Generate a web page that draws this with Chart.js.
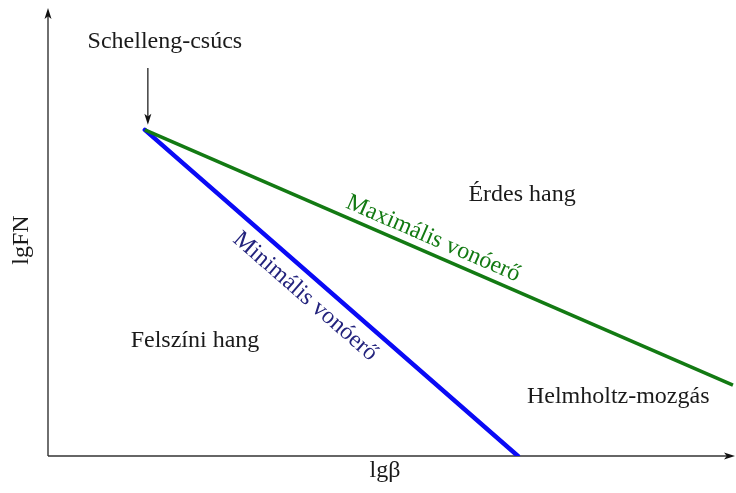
<!DOCTYPE html>
<html>
<head>
<meta charset="utf-8">
<script src="https://cdn.jsdelivr.net/npm/chart.js@4/dist/chart.umd.min.js"></script>
<style>
  html, body { margin: 0; padding: 0; background: #fff; }
  #wrap { width: 736px; height: 493px; position: relative; }
</style>
</head>
<body>
<div id="wrap"><canvas id="c"></canvas></div>
<script>
// Bowing-force limits (log-log, arbitrary units): lg β on x, lg F_N on y
const seriesNames = ['Maximális vonóerő', 'Minimális vonóerő'];
const maxForceX = [1.41, 9.97];
const maxForceY = [7.28, 1.58];
const minForceX = [1.41, 6.84];
const minForceY = [7.28, 0.0];

const xTitle = 'lgβ';
const yTitle = 'lgFN';
const peakLabel = 'Schelleng-csúcs';
const regionNames = ['Érdes hang', 'Felszíni hang', 'Helmholtz-mozgás'];

// Where the region names sit (data units)
const regionPos = [
  { x: 6.90, y: 5.83 },
  { x: 2.14, y: 2.57 },
  { x: 8.30, y: 1.32 }
];

const FONT = '"Liberation Serif", "DejaVu Serif", serif';
const FONT_SIZE = 24;
const GREEN = '#137a13';
const BLUE = '#0a0af5';

const toPts = (xs, ys) => xs.map((x, i) => ({ x, y: ys[i] }));

function arrowHead(ctx, x, y, dx, dy, len, half) {
  const n = Math.hypot(dx, dy); const ux = dx / n, uy = dy / n;
  ctx.beginPath();
  ctx.moveTo(x, y);
  ctx.lineTo(x - ux * len - uy * half, y - uy * len + ux * half);
  ctx.lineTo(x - ux * len * 0.75, y - uy * len * 0.75);
  ctx.lineTo(x - ux * len + uy * half, y - uy * len - ux * half);
  ctx.closePath();
  ctx.fill();
}

function lineLabel(ctx, xs, ys, text, t, offset, color, sx, sy) {
  const x0 = sx.getPixelForValue(xs[0]), y0 = sy.getPixelForValue(ys[0]);
  const x1 = sx.getPixelForValue(xs[1]), y1 = sy.getPixelForValue(ys[1]);
  const ang = Math.atan2(y1 - y0, x1 - x0);
  const px = x0 + (x1 - x0) * t, py = y0 + (y1 - y0) * t;
  // normal pointing "up" relative to the line direction
  const nx = Math.sin(ang), ny = -Math.cos(ang);
  ctx.save();
  ctx.translate(px + nx * offset, py + ny * offset);
  ctx.rotate(ang);
  ctx.fillStyle = color;
  ctx.textAlign = 'center';
  ctx.textBaseline = 'middle';
  ctx.font = FONT_SIZE + 'px ' + FONT;
  ctx.fillText(text, 0, 0);
  ctx.restore();
}

const decorations = {
  id: 'decorations',
  beforeDatasetsDraw(chart) {
    const { ctx, chartArea: a } = chart;
    ctx.save();
    ctx.strokeStyle = '#333';
    ctx.fillStyle = '#111';
    ctx.lineWidth = 1.4;
    // y axis
    ctx.beginPath();
    ctx.moveTo(a.left, a.bottom);
    ctx.lineTo(a.left, a.top + 8);
    ctx.stroke();
    arrowHead(ctx, a.left, a.top, 0, -1, 11, 3.5);
    // x axis
    ctx.beginPath();
    ctx.moveTo(a.left, a.bottom);
    ctx.lineTo(a.right - 8, a.bottom);
    ctx.stroke();
    arrowHead(ctx, a.right, a.bottom, 1, 0, 11, 3.5);
    ctx.restore();
  },
  afterDatasetsDraw(chart) {
    const { ctx, chartArea: a, scales: { x: sx, y: sy } } = chart;
    ctx.save();
    ctx.fillStyle = '#1a1a1a';
    ctx.font = FONT_SIZE + 'px ' + FONT;
    ctx.textAlign = 'center';
    ctx.textBaseline = 'middle';

    // axis titles
    ctx.fillText(xTitle, 385, a.bottom + 15);
    ctx.save();
    ctx.translate(22, 240);
    ctx.rotate(-Math.PI / 2);
    ctx.fillText(yTitle, 0, 0);
    ctx.restore();

    // region names
    regionNames.forEach((name, i) => {
      ctx.fillText(name, sx.getPixelForValue(regionPos[i].x), sy.getPixelForValue(regionPos[i].y));
    });

    // peak annotation with arrow
    const peakX = sx.getPixelForValue(maxForceX[0]);
    const peakY = sy.getPixelForValue(maxForceY[0]);
    ctx.fillText(peakLabel, peakX + 20, 42);
    ctx.strokeStyle = '#111';
    ctx.lineWidth = 1.2;
    ctx.beginPath();
    ctx.moveTo(peakX + 3, 68);
    ctx.lineTo(peakX + 3, peakY - 12);
    ctx.stroke();
    ctx.fillStyle = '#111';
    arrowHead(ctx, peakX + 3, peakY - 5, 0, 1, 11, 3.5);

    // line labels
    lineLabel(ctx, maxForceX, maxForceY, seriesNames[0], 0.48, 15, GREEN, sx, sy);
    lineLabel(ctx, minForceX, minForceY, seriesNames[1], 0.465, -20, '#23237d', sx, sy);
    ctx.restore();
  }
};

new Chart(document.getElementById('c'), {
  type: 'scatter',
  data: {
    datasets: [
      {
        label: seriesNames[0],
        data: toPts(maxForceX, maxForceY),
        showLine: true,
        borderColor: GREEN,
        borderWidth: 3.5,
        pointRadius: 0,
        borderCapStyle: 'butt'
      },
      {
        label: seriesNames[1],
        data: toPts(minForceX, minForceY),
        showLine: true,
        borderColor: BLUE,
        borderWidth: 4.5,
        pointRadius: 0,
        borderCapStyle: 'round'
      }
    ]
  },
  options: {
    responsive: true,
    maintainAspectRatio: false,
    animation: false,
    layout: { padding: { left: 48, right: 1, top: 8, bottom: 37 } },
    plugins: { legend: { display: false }, tooltip: { enabled: false } },
    scales: {
      x: { type: 'linear', min: 0, max: 10, display: false },
      y: { type: 'linear', min: 0, max: 10, display: false }
    }
  },
  plugins: [decorations]
});
</script>
</body>
</html>
